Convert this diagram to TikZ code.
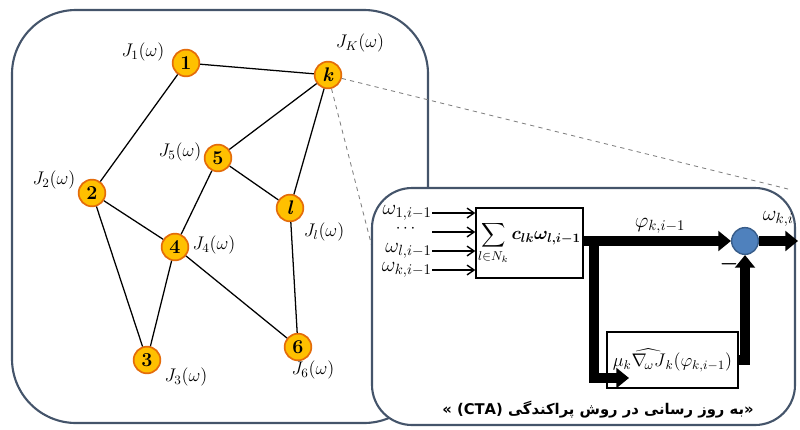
\RequirePackage{fix-cm}
\documentclass[tikz,border=0pt]{standalone}
\usepackage{amsmath}
\usepackage{fontspec}
\newfontfamily\arabicfont[Script=Arabic]{DejaVu Sans}
\TeXXeTstate=1
\usetikzlibrary{arrows.meta}

\definecolor{panelline}{RGB}{68,84,106}
\definecolor{agentfill}{RGB}{255,192,0}
\definecolor{agentline}{RGB}{228,108,10}
\definecolor{adderfill}{RGB}{79,129,189}
\definecolor{adderline}{RGB}{56,93,138}

\tikzset{
  panel/.style={draw=panelline,line width=1.5pt,fill=white},
  agent/.style={circle,draw=agentline,fill=agentfill,line width=1.2pt,minimum size=19pt,inner sep=0pt,font=\fontsize{14}{16}\selectfont\bfseries},
  cost/.style={font=\fontsize{13}{15}\selectfont},
  link/.style={line width=0.9pt},
  zoomline/.style={dashed,draw=gray,line width=0.6pt},
  block/.style={draw,line width=1pt,fill=white,inner sep=0pt,font=\fontsize{13}{15}\selectfont},
  sig/.style={font=\fontsize{15}{17}\selectfont},
  feed/.style={line width=1pt,-{Straight Barb[length=5pt,width=7pt]}},
  flow/.style={line width=7pt,-{Triangle[length=9pt,width=14pt]}},
}

\begin{document}
\begin{tikzpicture}[x=0.025cm,y=-0.025cm]
  \useasboundingbox (0,0) rectangle (800,429);

	% Network panel
	\draw[panel,rounded corners=1.6cm] (12,10) rectangle (428,423);

	% Agents
	\node[agent] (n1) at (186,63) {1};
	\node[agent] (nk) at (328,75) {\textit{k}};
	\node[agent] (n5) at (218,158) {5};
	\node[agent] (nl) at (290,208) {\textit{l}};
	\node[agent] (n2) at (92,193) {2};
	\node[agent] (n4) at (175,247) {4};
	\node[agent] (n6) at (298,347) {6};
	\node[agent] (n3) at (147,360) {3};

	% Cost functions
	\node[cost] (c1) at (143,52) {$J_1(\omega)$};
	\node[cost] (ck) at (360,43) {$J_K(\omega)$};
	\node[cost] (c5) at (180,152) {$J_5(\omega)$};
	\node[cost] (c2) at (54,180) {$J_2(\omega)$};
	\node[cost] (c4) at (214,245) {$J_4(\omega)$};
	\node[cost] (cl) at (324,232) {$J_l(\omega)$};
	\node[cost] (c6) at (313,370) {$J_6(\omega)$};
	\node[cost] (c3) at (186,377) {$J_3(\omega)$};

	% Links
	\draw[link] (n1) -- (nk);
	\draw[link] (n1) -- (n2);
	\draw[link] (nk) -- (n5);
	\draw[link] (nk) -- (nl);
	\draw[link] (n5) -- (nl);
	\draw[link] (n5) -- (n4);
	\draw[link] (n2) -- (n4);
	\draw[link] (n2) -- (n3);
	\draw[link] (n4) -- (n3);
	\draw[link] (n4) -- (n6);
	\draw[link] (nl) -- (n6);

	% Zoom on agent k
	\coordinate (zoomtop) at (792,190);
	\coordinate (zoombot) at (372,247);
	\draw[zoomline] (nk) -- (zoomtop);
	\draw[zoomline] (nk) -- (zoombot);

	% CTA panel
	\draw[panel,rounded corners=1cm] (372,188) rectangle (795,425);

	% Combination step
	\node[block,minimum width=2.675cm,minimum height=1.75cm] (sum) at (529.5,243)
	  {$\displaystyle\sum_{l\in N_k}\boldsymbol{c_{lk}\omega_{l,i-1}}$};
	\foreach \y/\w in {213/{\omega_{1,i-1}},251/{\omega_{l,i-1}},270/{\omega_{k,i-1}}}
	  {
	    \node[sig,anchor=east,inner sep=0pt] (in\y) at (432,\y) {$\w$};
	    \draw[feed] (in\y.east) -- (sum.west |- in\y.east);
	  }
	\coordinate (in232) at (432,232);
	\node[inner sep=0pt,font=\fontsize{12}{14}\selectfont] (dots) at (407,229) {$\cdots$};
	\draw[feed] (in232) -- (sum.west |- in232);

	% Adaptation step
	\node[block,minimum width=3.275cm,minimum height=1.4cm] (grad) at (672.5,360)
	  {$\mu_k\widehat{\nabla_{\!\omega} J}_k(\varphi_{k,i-1})$};
	\node[circle,draw=adderline,fill=adderfill,line width=1pt,minimum size=19pt,inner sep=0pt] (adder) at (745,241) {};

	\coordinate (split) at (594,241);
	\coordinate (gradin) at (629,378);
	\coordinate (out) at (798,241);
	\draw[flow] (sum.east |- split) -- (adder.west);
	\draw[flow] (split) |- (gradin);
	\draw[flow] (grad.east) -| (adder.south);
	\draw[flow] (adder.east) -- (out);

	\node[sig] (phi) at (660,226) {$\varphi_{k,i-1}$};
	\node[sig,anchor=east,inner sep=0pt] (wout) at (794,219) {$\omega_{k,i}$};
	\node[sig] (minus) at (729,264) {$\boldsymbol{-}$};

	% Caption
	\node[font=\fontsize{10.5}{12}\selectfont\arabicfont\bfseries] (cap) at (598,410)
	  {\beginR «به روز رسانی در روش پراکندگی \beginL(CTA)\endL{} »\endR};
\end{tikzpicture}
\end{document}
